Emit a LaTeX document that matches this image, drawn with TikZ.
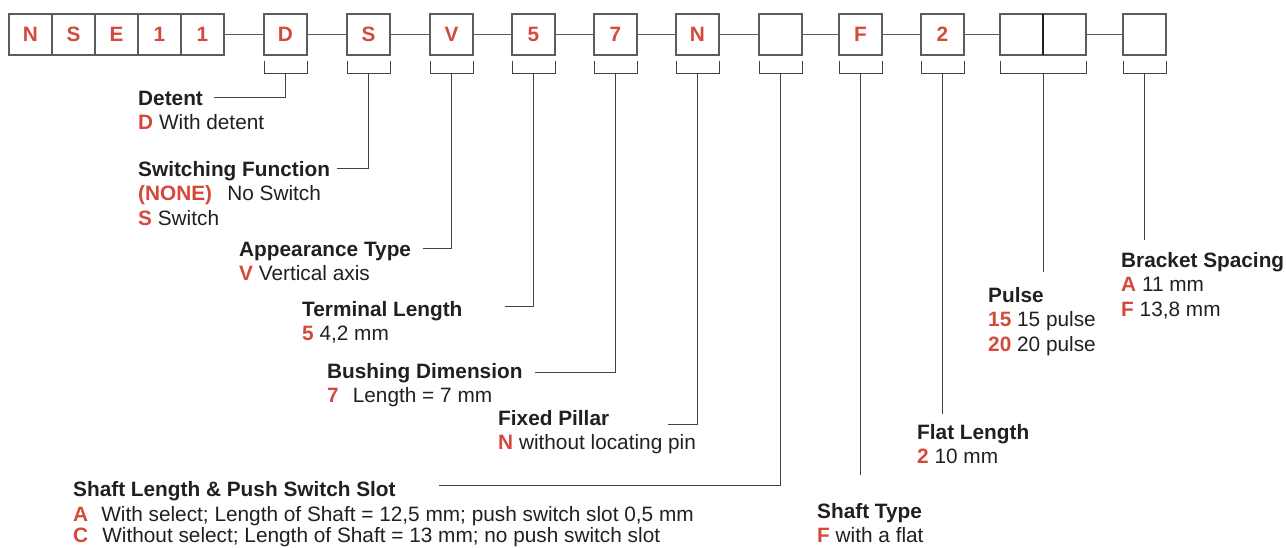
\documentclass[tikz,border=0pt]{standalone}
\usepackage{fontspec}
\setmainfont{Liberation Sans}
\usetikzlibrary{positioning}
\definecolor{CodeRed}{HTML}{D4493B}
\definecolor{BoxGray}{HTML}{5C5C5C}
\definecolor{InkDark}{HTML}{231F20}
\newcommand{\opt}[2]{{\bfseries\color{CodeRed}#1}\ #2}
\newcommand{\partbracket}[1]{%
  \draw[lead] ([yshift=-6pt]#1.south west) -- ([yshift=-18pt]#1.south west)
    -- ([yshift=-18pt]#1.south east) -- ([yshift=-6pt]#1.south east);
  \coordinate (#1-br) at ([yshift=-18pt]#1.south);}

\begin{document}
\begin{tikzpicture}[x=1pt, y=-1pt,
    every node/.style={font=\fontsize{20.8}{24.5}\selectfont, text=InkDark},
    codebox/.style={draw=BoxGray, line width=1.4pt, outer sep=0pt, inner sep=0pt,
                    minimum width=43pt, minimum height=41pt,
                    font=\fontsize{20.8}{24.5}\selectfont\bfseries, text=CodeRed},
    link/.style={draw=BoxGray, line width=1.1pt},
    lead/.style={draw=InkDark!85, line width=0.9pt},
    title/.style={anchor=base west, inner sep=0pt,
                  font=\fontsize{20.8}{24.5}\selectfont\bfseries},
    optline/.style={anchor=base west, inner sep=0pt}]
  \useasboundingbox (0,0) rectangle (1286,547);

  % part number
  \node[codebox] (prefixN) at (30.5,34.5) {N};
  \node[codebox, right=0pt of prefixN] (prefixS) {S};
  \node[codebox, right=0pt of prefixS] (prefixE) {E};
  \node[codebox, right=0pt of prefixE] (prefixA) {1};
  \node[codebox, right=0pt of prefixA] (prefixB) {1};
  \node[codebox, right=40pt of prefixB] (detent) {D};
  \node[codebox, right=40pt of detent] (switching) {S};
  \node[codebox, right=40pt of switching] (appearance) {V};
  \node[codebox, right=39pt of appearance] (terminal) {5};
  \node[codebox, right=39pt of terminal] (bushing) {7};
  \node[codebox, right=39pt of bushing] (pillar) {N};
  \node[codebox, right=40pt of pillar] (shaftlen) {};
  \node[codebox, right=37pt of shaftlen] (shafttype) {F};
  \node[codebox, right=39pt of shafttype] (flat) {2};
  \node[codebox, right=36pt of flat] (pulseA) {};
  \node[codebox, right=0pt of pulseA] (pulseB) {};
  \node[codebox, right=37pt of pulseB] (spacing) {};
  \draw[line width=2pt, draw=InkDark] (pulseA.north east) -- (pulseA.south east);

  \draw[link] (prefixB) -- (detent);
  \draw[link] (detent) -- (switching);
  \draw[link] (switching) -- (appearance);
  \draw[link] (appearance) -- (terminal);
  \draw[link] (terminal) -- (bushing);
  \draw[link] (bushing) -- (pillar);
  \draw[link] (pillar) -- (shaftlen);
  \draw[link] (shaftlen) -- (shafttype);
  \draw[link] (shafttype) -- (flat);
  \draw[link] (flat) -- (pulseA);
  \draw[link] (pulseB) -- (spacing);

  % brackets
  \partbracket{detent}
  \partbracket{switching}
  \partbracket{appearance}
  \partbracket{terminal}
  \partbracket{bushing}
  \partbracket{pillar}
  \partbracket{shaftlen}
  \partbracket{shafttype}
  \partbracket{flat}
  \partbracket{spacing}
  \draw[lead] ([yshift=-6pt]pulseA.south west) -- ([yshift=-18pt]pulseA.south west)
    -- ([yshift=-18pt]pulseB.south east) -- ([yshift=-6pt]pulseB.south east);
  \coordinate (pulse-br) at ([yshift=-18pt]pulseA.south east);

  % descriptions
  \node[title] (lbl-detent) at (138,105) {Detent};
  \node[optline] (opt-detent) at ([yshift=-24.5pt]lbl-detent.base west) {\opt{D}{With detent}};

  \node[title] (lbl-switching) at (138,176) {Switching Function};
  \node[optline] (opt-switchingA) at ([yshift=-24.5pt]lbl-switching.base west) {\opt{(NONE)}{\hspace{0.45em}No Switch}};
  \node[optline] (opt-switchingB) at ([yshift=-24.5pt]opt-switchingA.base west) {\opt{S}{Switch}};

  \node[title] (lbl-appearance) at (239,256) {Appearance Type};
  \node[optline] (opt-appearance) at ([yshift=-24.5pt]lbl-appearance.base west) {\opt{V}{Vertical axis}};

  \node[title] (lbl-terminal) at (302,316) {Terminal Length};
  \node[optline] (opt-terminal) at ([yshift=-24.5pt]lbl-terminal.base west) {\opt{5}{4,2 mm}};

  \node[title] (lbl-bushing) at (327,378) {Bushing Dimension};
  \node[optline] (opt-bushing) at ([yshift=-24.5pt]lbl-bushing.base west) {\opt{7}{\hspace{0.4em}Length = 7 mm}};

  \node[title] (lbl-pillar) at (498,425) {Fixed Pillar};
  \node[optline] (opt-pillar) at ([yshift=-24.5pt]lbl-pillar.base west) {\opt{N}{without locating pin}};

  \node[title] (lbl-shaftlen) at (73,496) {Shaft Length \& Push Switch Slot};
  \node[optline] (opt-shaftlenA) at ([yshift=-25.5pt]lbl-shaftlen.base west) {\opt{A}{\hspace{0.35em}With select; Length of Shaft = 12,5 mm; push switch slot 0,5 mm}};
  \node[optline] (opt-shaftlenC) at ([yshift=-20.5pt]opt-shaftlenA.base west) {\opt{C}{\hspace{0.4em}Without select; Length of Shaft = 13 mm; no push switch slot}};

  \node[title] (lbl-shafttype) at (817,518) {Shaft Type};
  \node[optline] (opt-shafttype) at ([yshift=-24pt]lbl-shafttype.base west) {\opt{F}{with a flat}};

  \node[title] (lbl-flat) at (917,439) {Flat Length};
  \node[optline] (opt-flat) at ([yshift=-24.5pt]lbl-flat.base west) {\opt{2}{10 mm}};

  \node[title] (lbl-pulse) at (988,302) {Pulse};
  \node[optline] (opt-pulseA) at ([yshift=-24.5pt]lbl-pulse.base west) {\opt{15}{15 pulse}};
  \node[optline] (opt-pulseB) at ([yshift=-24.5pt]opt-pulseA.base west) {\opt{20}{20 pulse}};

  \node[title] (lbl-spacing) at (1121,267) {Bracket Spacing};
  \node[optline] (opt-spacingA) at ([yshift=-24.5pt]lbl-spacing.base west) {\opt{A}{11 mm}};
  \node[optline] (opt-spacingF) at ([yshift=-24.5pt]opt-spacingA.base west) {\opt{F}{13,8 mm}};

  % leaders
  \coordinate (lead-detent) at (214,97);
  \coordinate (lead-switching) at (337,168);
  \coordinate (lead-appearance) at (423,248);
  \coordinate (lead-terminal) at (505,306);
  \coordinate (lead-bushing) at (535,372);
  \coordinate (lead-pillar) at (668,424);
  \coordinate (lead-shaftlen) at (439,485);
  \coordinate (end-shafttype) at (shafttype-br |- 0,475);
  \coordinate (end-flat) at (flat-br |- 0,414);
  \coordinate (end-pulse) at (pulse-br |- 0,272);
  \coordinate (end-spacing) at (spacing-br |- 0,240);
  \draw[lead] (lead-detent) -| (detent-br);
  \draw[lead] (lead-switching) -| (switching-br);
  \draw[lead] (lead-appearance) -| (appearance-br);
  \draw[lead] (lead-terminal) -| (terminal-br);
  \draw[lead] (lead-bushing) -| (bushing-br);
  \draw[lead] (lead-pillar) -| (pillar-br);
  \draw[lead] (lead-shaftlen) -| (shaftlen-br);
  \draw[lead] (shafttype-br) -- (end-shafttype);
  \draw[lead] (flat-br) -- (end-flat);
  \draw[lead] (pulse-br) -- (end-pulse);
  \draw[lead] (spacing-br) -- (end-spacing);
\end{tikzpicture}
\end{document}
